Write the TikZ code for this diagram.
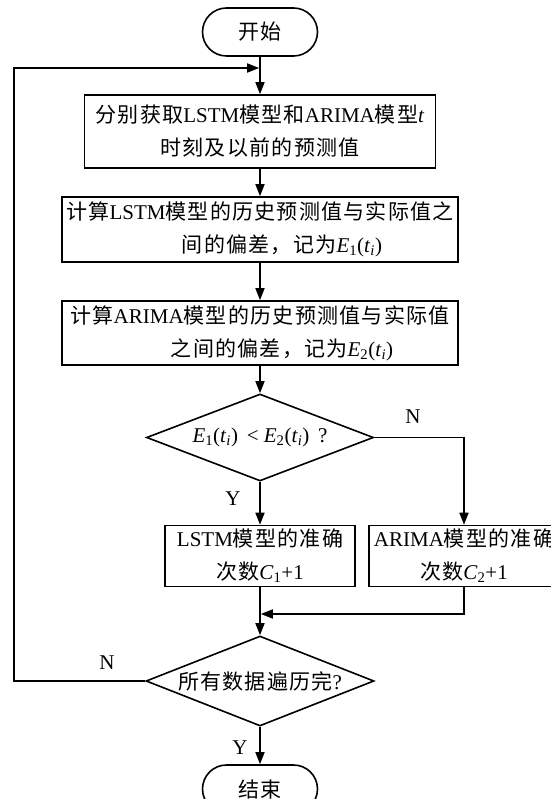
\documentclass[tikz,border=0pt]{standalone}
\usepackage{fontspec}
\setmainfont{Liberation Serif}
\newfontfamily\cjk[LetterSpace=6]{Noto Sans CJK SC}
\usetikzlibrary{shapes.geometric,arrows.meta}
\newcommand\zh[1]{{\cjk #1}}
\newcommand\vE[2]{\textit{E}\textsubscript{#1}(\textit{t}\textsubscript{\textit{#2}})}
\begin{document}
\begin{tikzpicture}[x=1pt,y=-1pt, line width=1.6pt,
  >={Triangle[length=12pt,width=9pt]},
  every node/.style={font=\fontsize{21}{33}\selectfont},
  term/.style={draw, rounded corners=24pt, minimum width=115pt, minimum height=48pt, inner sep=0},
  proc/.style={draw, align=center, inner sep=0},
  dec/.style={draw, diamond, inner sep=0, aspect=2.6},
  lbl/.style={inner sep=0}]
\useasboundingbox (0,0) rectangle (550,799);
\node[term] (start) at (260,32) {\zh{开始}};
\node[proc, minimum width=351pt, minimum height=73pt] (b1) at (260,131.5)
  {\zh{分别获取}LSTM\zh{模型和}ARIMA\zh{模型}\textit{t}\\\zh{时刻及以前的预测值}};
\node[proc, minimum width=396pt, minimum height=65pt] (b2) at (260,229.5)
  {\zh{计算}LSTM\zh{模型的历史预测值与实际值之}\\\hspace*{44pt}\zh{间的偏差，记为}\vE{1}{i}};
\node[proc, minimum width=396pt, minimum height=64pt] (b3) at (260,333)
  {\zh{计算}ARIMA\zh{模型的历史预测值与实际值}\\\hspace*{44pt}\zh{之间的偏差，记为}\vE{2}{i}};
\node[dec, minimum width=227pt, minimum height=87pt] (d1) at (260,437.5)
  {\vE{1}{i}\ \,<\ \vE{2}{i}\ \,?};
\node[proc, minimum width=190pt, minimum height=61pt] (b4) at (260,556)
  {LSTM\zh{模型的准确}\\\zh{次数}\textit{C}\textsubscript{1}+1};
\node[proc, minimum width=190pt, minimum height=61pt] (b5) at (464,556)
  {ARIMA\zh{模型的准确}\\\zh{次数}\textit{C}\textsubscript{2}+1};
\node[dec, minimum width=228pt, minimum height=90pt] (d2) at (260,681)
  {\zh{所有数据遍历完}?};
\node[term] (end) at (260,789) {\zh{结束}};
\coordinate (lc) at (14,68);
\coordinate (jn) at (260,68);
\coordinate (merge) at (260,614);
\node[lbl] (n1) at (413,417) {N};
\node[lbl] (y1) at (233,499) {Y};
\node[lbl] (n2) at (107,663) {N};
\node[lbl] (y2) at (240,748) {Y};
\draw[->] (start) -- (b1);
\draw[->] (b1) -- (b2);
\draw[->] (b2) -- (b3);
\draw[->] (b3) -- (d1);
\draw[->] (d1) -- (b4);
\draw[->] (d1.east) -| (b5.north);
\draw[->] (b4) -- (d2);
\draw[->, shorten >=0.8pt] (b5.south) |- (merge);
\draw[->] (d2) -- (end);
\draw[->, shorten >=0.8pt] (d2.west) -| (lc) -- (jn);
\end{tikzpicture}
\end{document}
